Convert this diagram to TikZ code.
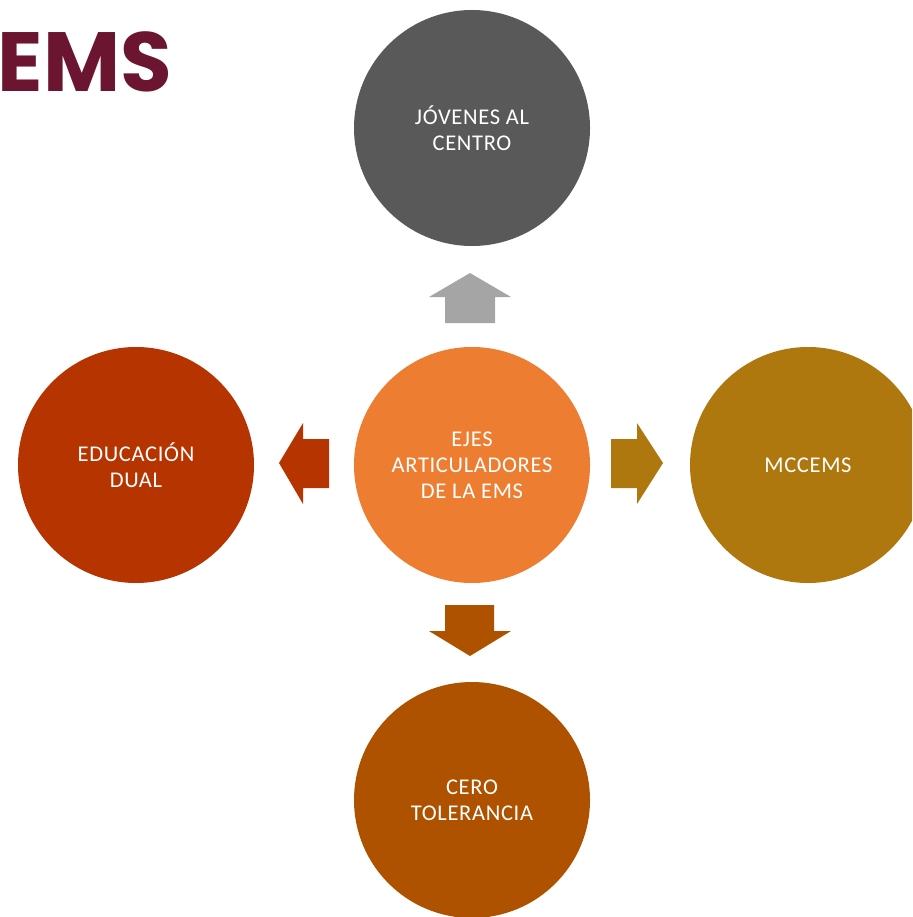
\documentclass[tikz,border=0pt]{standalone}
\usepackage{fontspec}
\setmainfont{Carlito}[LetterSpace=3]
\newfontfamily\titlefont{Poppins}
\definecolor{cgray}{HTML}{595959}
\definecolor{agray}{HTML}{A5A5A5}
\definecolor{corange}{HTML}{ED7D31}
\definecolor{cred}{HTML}{B63400}
\definecolor{cgold}{HTML}{AE780F}
\definecolor{cbrown}{HTML}{AE5200}
\definecolor{ctitle}{HTML}{6B1530}
\tikzset{
  circ/.style={circle, minimum size=236pt, inner sep=0pt, text=white, align=center,
    font=\fontsize{22.5}{26}\selectfont},
}
\begin{document}
\begin{tikzpicture}[x=1pt,y=-1pt]
\useasboundingbox (0,0) rectangle (912,917);
\clip (0,0) rectangle (912,917);
\node[anchor=base east, text=ctitle, inner sep=0pt, font=\titlefont\bfseries\fontsize{84}{84}\selectfont] (title) at (172,92) {EMS};
% circles
\node[circ, fill=cgray] (top) at (472,128) {JÓVENES AL\\CENTRO};
\node[circ, fill=corange] (ctr) at (472,465) {EJES\\ARTICULADORES\\DE LA EMS};
\node[circ, fill=cred] (left) at (136,465) {EDUCACIÓN\\DUAL};
\node[circ, fill=cgold] (right) at (808,465) {MCCEMS};
\node[circ, fill=cbrown] (bot) at (472,800) {CERO\\TOLERANCIA};
% arrows
\fill[agray] (445,323) -- (445,297) -- (429,297) -- (470,273) -- (511,297) -- (495,297) -- (495,323) -- cycle;
\fill[cred] (329,439) -- (303,439) -- (303,423) -- (279,463) -- (303,504) -- (303,488) -- (329,488) -- cycle;
\fill[cgold] (611,439) -- (637,439) -- (637,423) -- (663,463) -- (637,504) -- (637,488) -- (611,488) -- cycle;
\fill[cbrown] (445,605) -- (494,605) -- (494,631) -- (511,631) -- (470,656) -- (429,631) -- (445,631) -- cycle;
\end{tikzpicture}
\end{document}
